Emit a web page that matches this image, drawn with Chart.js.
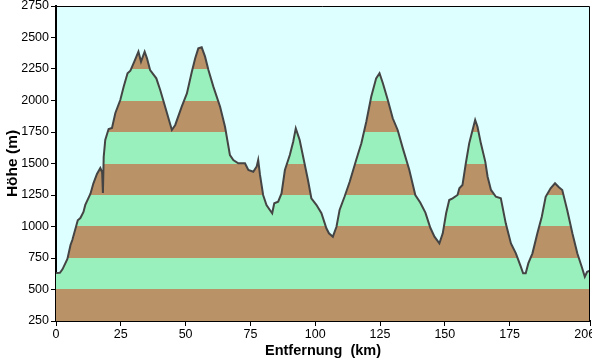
<!DOCTYPE html>
<html>
<head>
<meta charset="utf-8">
<script src="https://cdn.jsdelivr.net/npm/chart.js@4/dist/chart.umd.min.js"></script>
<style>
  html, body { margin: 0; padding: 0; background: #fff; }
  canvas { display: block; }
</style>
</head>
<body>
<canvas id="profil" width="592" height="362"></canvas>
<script>
// Höhenprofil – Entfernung (km) / Höhe (m)
const distKm = [
  0, 1.5, 2.5, 4.4, 5.6, 6.3, 8.4, 9.4, 10.6, 11.3, 13.3, 14.4, 15.8, 17.1, 17.8, 18.1, 18.4,
  19.0, 20.3, 21.6, 22.9, 24.8, 26.1, 27.6, 28.7, 30.2, 31.8, 32.8, 34.2, 35.1, 36.3, 38.7,
  40.2, 42.1, 44.7, 46.0, 48.5, 50.5, 52.4, 53.7, 54.9, 56.2, 57.5, 58.8, 60.7, 63.3, 65.2,
  67.1, 68.4, 70.3, 72.9, 74.2, 76.1, 77.4, 78.0, 78.7, 79.9, 81.2, 82.5, 83.4, 84.2, 85.7,
  87.0, 88.3, 90.2, 91.5, 92.5, 94.0, 95.6, 97.2, 98.5, 100.5, 102.4, 104.3, 105.3, 106.8,
  108.2, 109.4, 111.3, 113.3, 115.8, 117.8, 119.7, 121.6, 123.5, 124.8, 126.1, 128.0, 129.9,
  131.8, 133.8, 136.3, 138.6, 140.5, 142.5, 144.4, 146.0, 147.9, 149.2, 150.5, 151.7, 153.0,
  154.9, 155.6, 156.8, 158.1, 159.4, 160.7, 161.7, 162.6, 163.9, 165.6, 166.5, 167.8, 169.7,
  171.6, 173.5, 175.5, 177.4, 179.3, 180.2, 181.2, 182.2, 183.8, 185.7, 187.4, 188.9, 190.8,
  192.5, 194.0, 195.3, 197.2, 199.2, 201.1, 202.8, 204.0, 204.9, 206
];
const elevM = [
  630, 632, 660, 742, 853, 893, 1050, 1067, 1115, 1171, 1260, 1341, 1417, 1464, 1430, 1266, 1552,
  1687, 1774, 1782, 1901, 2004, 2110, 2216, 2237, 2308, 2387, 2308, 2387, 2335, 2242, 2176,
  2083, 1951, 1766, 1806, 1951, 2056, 2228, 2335, 2414, 2422, 2348, 2242, 2110, 1951, 1792,
  1567, 1528, 1502, 1502, 1448, 1435, 1475, 1528, 1409, 1250, 1170, 1131, 1105, 1184, 1197,
  1263, 1448, 1567, 1673, 1779, 1687, 1528, 1369, 1224, 1170, 1105, 986, 946, 919,
  998, 1131, 1236, 1355, 1528, 1660, 1832, 2030, 2176, 2216, 2137, 2004, 1859,
  1766, 1620, 1448, 1250, 1190, 1110, 990, 919, 866, 946, 1105, 1210, 1224,
  1250, 1303, 1329, 1502, 1660, 1766, 1845, 1792, 1660, 1515, 1395, 1290, 1236,
  1224, 1025, 866, 787, 681, 628, 628, 707, 787, 946, 1078, 1236, 1303,
  1343, 1311, 1290, 1131, 946, 787, 681, 601, 641, 650
];
const xTicks = [0, 25, 50, 75, 100, 125, 150, 175, 206];
const yTicks = [250, 500, 750, 1000, 1250, 1500, 1750, 2000, 2250, 2500, 2750];

const BROWN = 'rgb(185,146,104)';
const GREEN = 'rgb(154,240,188)';
const SKY   = 'rgb(221,255,255)';

// Farbbänder alle 250 m (braun / grün abwechselnd)
function bandFill(ctx) {
  const chart = ctx.chart;
  const area = chart.chartArea;
  if (!area) return BROWN;
  const y = chart.scales.y;
  const y0 = y.getPixelForValue(yTicks[0]);
  const y1 = y.getPixelForValue(yTicks[yTicks.length - 1]);
  const g = chart.ctx.createLinearGradient(0, y0, 0, y1);
  const span = yTicks[yTicks.length - 1] - yTicks[0];
  for (let i = 0; i < yTicks.length - 1; i++) {
    const c = i % 2 === 0 ? BROWN : GREEN;
    g.addColorStop((yTicks[i] - yTicks[0]) / span, c);
    g.addColorStop((yTicks[i + 1] - yTicks[0]) / span, c);
  }
  return g;
}

const plotFrame = {
  id: 'plotFrame',
  beforeDraw(chart) {
    const { ctx, chartArea: a } = chart;
    ctx.save();
    ctx.fillStyle = SKY;
    ctx.fillRect(a.left, a.top, a.right - a.left, a.bottom - a.top);
    ctx.restore();
  },
  afterDraw(chart) {
    const { ctx, chartArea: a } = chart;
    ctx.save();
    ctx.strokeStyle = '#000';
    ctx.lineWidth = 1;
    ctx.beginPath();
    ctx.moveTo(a.left, a.top + 0.5);
    ctx.lineTo(a.right - 0.5, a.top + 0.5);
    ctx.lineTo(a.right - 0.5, a.bottom);
    ctx.stroke();
    ctx.restore();
  }
};

const fam = '"Liberation Sans", Arial, sans-serif';
const tickFont = { family: fam, size: 12.5 };
const noPad = s => { s.paddingLeft = 0; s.paddingRight = 0; s.paddingTop = 0; s.paddingBottom = 0; };

new Chart(document.getElementById('profil'), {
  type: 'line',
  data: {
    datasets: [{
      data: distKm.map((d, i) => ({ x: d, y: elevM[i] })),
      borderColor: 'rgb(68,68,68)',
      borderWidth: 2,
      backgroundColor: bandFill,
      fill: 'start',
      pointRadius: 0,
      tension: 0
    }]
  },
  options: {
    responsive: false,
    devicePixelRatio: 1,
    animation: false,
    layout: { padding: { top: 6, right: 2, left: 0, bottom: 0 } },
    plugins: { legend: { display: false }, tooltip: { enabled: false } },
    scales: {
      x: {
        type: 'linear', min: 0, max: 206,
        afterBuildTicks: s => { s.ticks = xTicks.map(v => ({ value: v })); },
        afterFit: s => { s.height = 41; noPad(s); },
        grid: { drawOnChartArea: false, drawTicks: true, tickLength: 5, color: '#000' },
        border: { display: true, color: '#000', width: 2 },
        ticks: {
          color: '#000', font: tickFont, padding: 1, maxRotation: 0, autoSkip: false,
          // letzter Wert rückt etwas nach links, wie im Original
          callback: v => v === 206 ? '206   ' : String(v)
        },
        title: { display: true, text: 'Entfernung  (km)', color: '#000', font: { family: fam, size: 14.5, weight: 'bold' }, padding: { top: 0, bottom: 2 } }
      },
      y: {
        min: 250, max: 2750,
        afterBuildTicks: s => { s.ticks = yTicks.map(v => ({ value: v })); },
        afterFit: s => { s.width = 56; noPad(s); },
        grid: { drawOnChartArea: false, drawTicks: true, tickLength: 5, color: '#000' },
        border: { display: true, color: '#000', width: 2 },
        ticks: { color: '#000', font: tickFont, padding: 2, callback: v => String(v) },
        title: { display: true, text: 'Höhe (m)', color: '#000', font: { family: fam, size: 15.5, weight: 'bold' }, padding: { top: 3, bottom: 0 } }
      }
    }
  },
  plugins: [plotFrame]
});
</script>
</body>
</html>
